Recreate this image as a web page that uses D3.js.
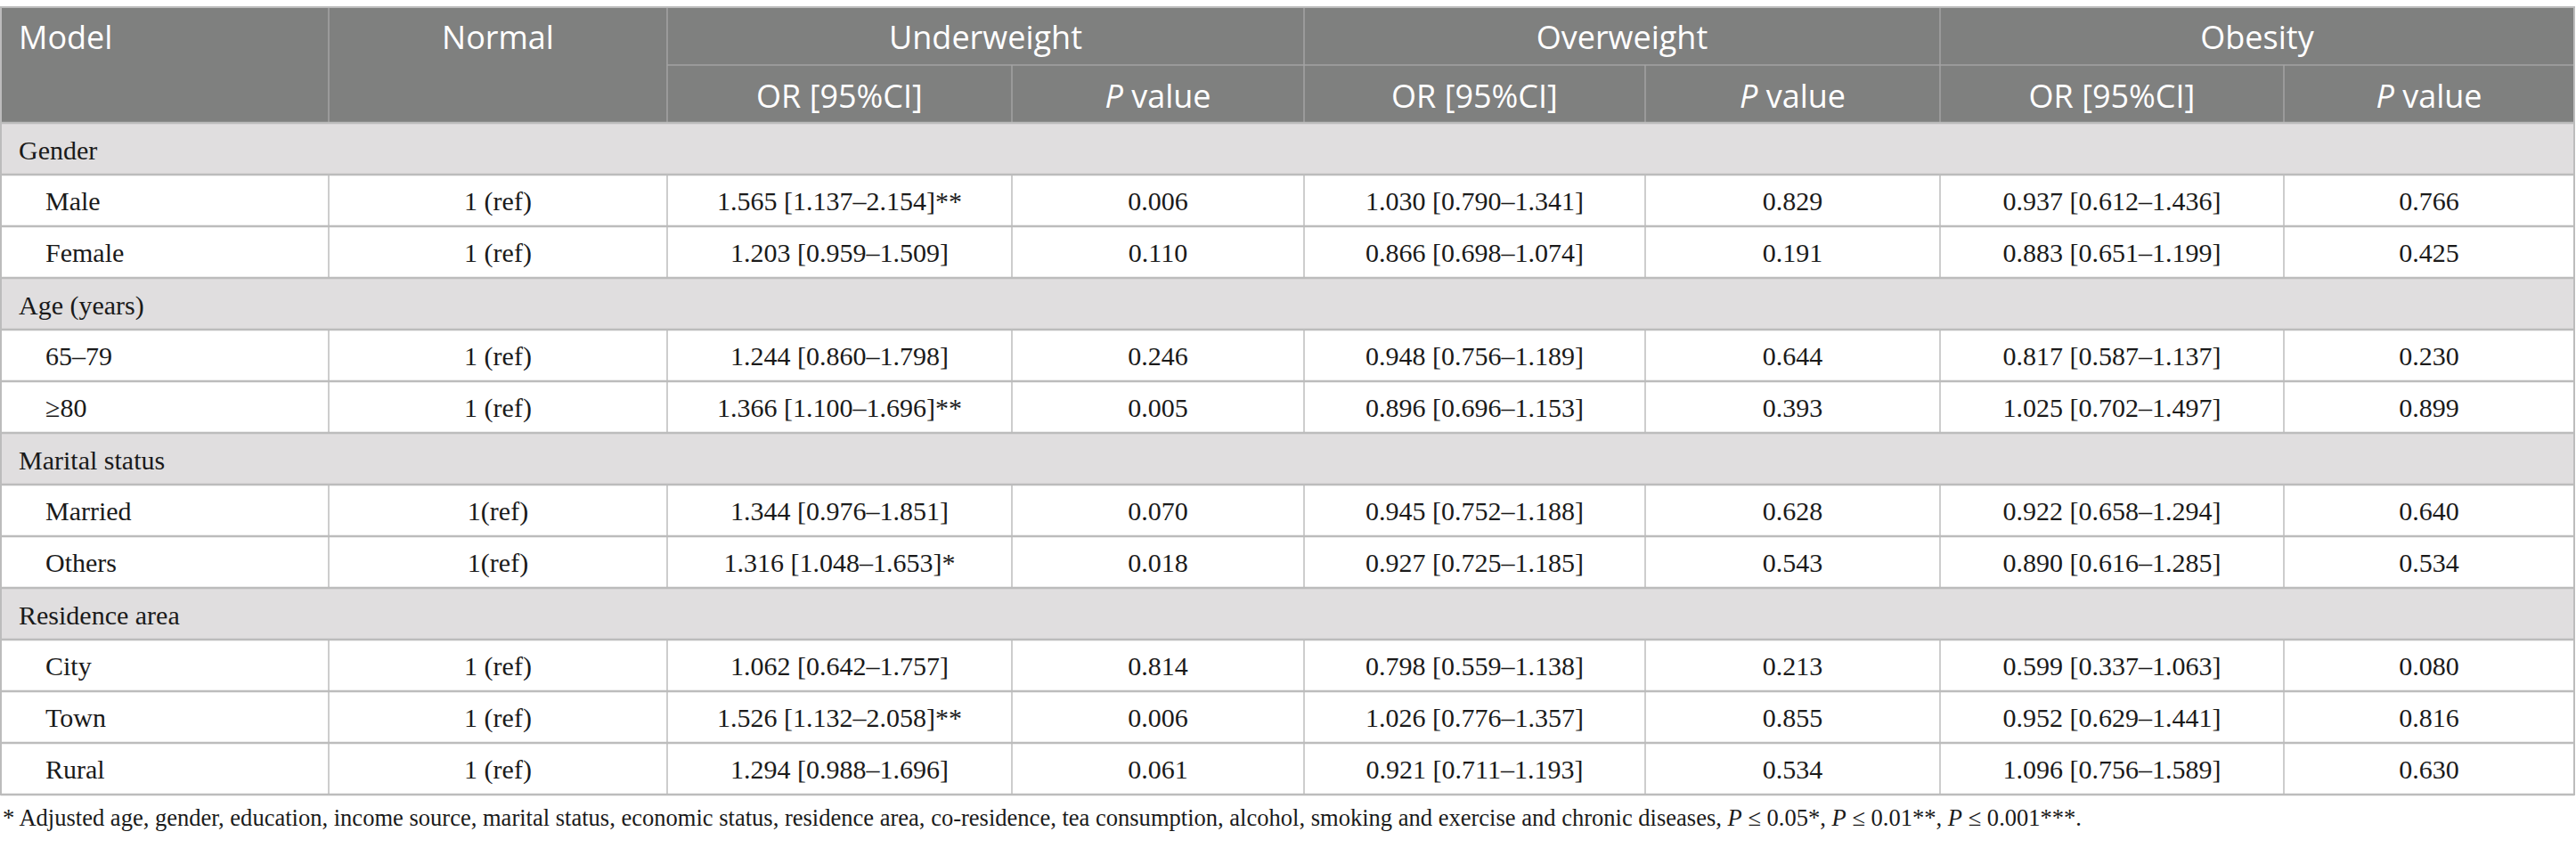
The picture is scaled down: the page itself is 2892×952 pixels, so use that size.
<!DOCTYPE html>
<html>
<head>
<meta charset="utf-8">
<script src="https://cdn.jsdelivr.net/npm/d3@7"></script>
<style>
  body { margin: 0; background: #fff; }
  svg { display: block; }
</style>
</head>
<body>
<div id="chart"></div>
<script>
// ---- data -------------------------------------------------------------
var groups = ["Gender", "Age (years)", "Marital status", "Residence area"];
var subLabels = [
  ["Male", "Female"],
  ["65–79", "≥80"],
  ["Married", "Others"],
  ["City", "Town", "Rural"]
];
var normalRef = ["1 (ref)", "1 (ref)", "1 (ref)", "1 (ref)", "1(ref)", "1(ref)", "1 (ref)", "1 (ref)", "1 (ref)"];

var series = ["Underweight", "Overweight", "Obesity"];

// [OR, lower, upper]
var orUnder = [[1.565, 1.137, 2.154], [1.203, 0.959, 1.509], [1.244, 0.860, 1.798], [1.366, 1.100, 1.696],
               [1.344, 0.976, 1.851], [1.316, 1.048, 1.653], [1.062, 0.642, 1.757], [1.526, 1.132, 2.058], [1.294, 0.988, 1.696]];
var pUnder  = [0.006, 0.110, 0.246, 0.005, 0.070, 0.018, 0.814, 0.006, 0.061];

var orOver  = [[1.030, 0.790, 1.341], [0.866, 0.698, 1.074], [0.948, 0.756, 1.189], [0.896, 0.696, 1.153],
               [0.945, 0.752, 1.188], [0.927, 0.725, 1.185], [0.798, 0.559, 1.138], [1.026, 0.776, 1.357], [0.921, 0.711, 1.193]];
var pOver   = [0.829, 0.191, 0.644, 0.393, 0.628, 0.543, 0.213, 0.855, 0.534];

var orObes  = [[0.937, 0.612, 1.436], [0.883, 0.651, 1.199], [0.817, 0.587, 1.137], [1.025, 0.702, 1.497],
               [0.922, 0.658, 1.294], [0.890, 0.616, 1.285], [0.599, 0.337, 1.063], [0.952, 0.629, 1.441], [1.096, 0.756, 1.589]];
var pObes   = [0.766, 0.425, 0.230, 0.899, 0.640, 0.534, 0.080, 0.816, 0.630];

var footnote = "* Adjusted age, gender, education, income source, marital status, economic status, residence area, co-residence, tea consumption, alcohol, smoking and exercise and chronic diseases, ";

// ---- layout -----------------------------------------------------------
var W = 2892, H = 952;
var colEdges = [1, 369, 749, 1136, 1464, 1847, 2178, 2564, 2890];
var headTop = 8, headMid = 73, headBot = 138, tableBot = 892;

var headBg = "#7f807f", groupBg = "#e0dedf", lineCol = "#bcbcbc", headLine = "#a3a3a3";
var sansFont = "'Open Sans', 'Noto Sans', sans-serif";
var serifFont = "'Liberation Serif', 'DejaVu Serif', serif";
var bodySize = 30;

var f3 = d3.format(".3f");
function stars(p) { return p <= 0.001 ? "***" : p <= 0.01 ? "**" : p <= 0.05 ? "*" : ""; }
function orText(o, p) { return f3(o[0]) + " [" + f3(o[1]) + "–" + f3(o[2]) + "]" + stars(p); }

// build row list
var rows = [];
var k = 0;
groups.forEach(function(g, gi) {
  rows.push({type: "group", label: g});
  subLabels[gi].forEach(function(s) {
    rows.push({
      type: "item", label: s, normal: normalRef[k],
      cells: [orText(orUnder[k], pUnder[k]), f3(pUnder[k]),
              orText(orOver[k], pOver[k]),   f3(pOver[k]),
              orText(orObes[k], pObes[k]),   f3(pObes[k])]
    });
    k++;
  });
});

var y = d3.scaleBand().domain(d3.range(rows.length)).range([headBot, tableBot]).paddingInner(0);
var colMid = d3.range(colEdges.length - 1).map(function(i) { return (colEdges[i] + colEdges[i + 1]) / 2; });

var svg = d3.select("#chart").append("svg").attr("width", W).attr("height", H);

// ---- header -----------------------------------------------------------
svg.append("rect").attr("x", colEdges[0]).attr("y", headTop)
  .attr("width", colEdges[8] - colEdges[0]).attr("height", headBot - headTop).attr("fill", headBg);

var hdr = svg.append("g").attr("font-family", sansFont).attr("font-size", 36).attr("fill", "#fff");
var top1 = 55, top2 = 121;
hdr.append("text").attr("x", 21).attr("y", top1).text("Model");
hdr.append("text").attr("x", colMid[1]).attr("y", top1).attr("text-anchor", "middle").text("Normal");
series.forEach(function(s, i) {
  var c0 = colEdges[2 + i * 2], c1 = colEdges[4 + i * 2];
  hdr.append("text").attr("x", (c0 + c1) / 2).attr("y", top1)
    .attr("text-anchor", "middle").text(s);
  hdr.append("text").attr("x", colMid[2 + i * 2]).attr("y", top2)
    .attr("text-anchor", "middle").text("OR [95%CI]");
  var pt = hdr.append("text").attr("x", colMid[3 + i * 2]).attr("y", top2)
    .attr("text-anchor", "middle");
  pt.append("tspan").attr("font-style", "italic").text("P");
  pt.append("tspan").text(" value");
});

// header grid lines
var hl = svg.append("g").attr("stroke", headLine).attr("stroke-width", 1.5);
hl.append("line").attr("x1", colEdges[2]).attr("x2", colEdges[8]).attr("y1", headMid).attr("y2", headMid);
[1, 2, 4, 6].forEach(function(i) {
  hl.append("line").attr("x1", colEdges[i]).attr("x2", colEdges[i]).attr("y1", headTop).attr("y2", headBot);
});
[3, 5, 7].forEach(function(i) {
  hl.append("line").attr("x1", colEdges[i]).attr("x2", colEdges[i]).attr("y1", headMid).attr("y2", headBot);
});

// ---- body -------------------------------------------------------------
var body = svg.append("g");
var rowG = body.selectAll("g.row").data(rows).enter().append("g")
  .attr("class", "row")
  .attr("transform", function(d, i) { return "translate(0," + y(i) + ")"; });

rowG.filter(function(d) { return d.type === "group"; })
  .append("rect").attr("x", colEdges[0]).attr("width", colEdges[8] - colEdges[0])
  .attr("height", y.bandwidth()).attr("fill", groupBg);

rowG.append("text")
  .attr("x", function(d) { return d.type === "group" ? 21 : 51; })
  .attr("y", function(d) { return d.type === "group" ? 41 : 40; })
  .attr("font-family", serifFont).attr("font-size", bodySize).attr("fill", "#1a1a1a")
  .text(function(d) { return d.label; });

var items = rowG.filter(function(d) { return d.type === "item"; });
items.selectAll("text.cell")
  .data(function(d) { return [d.normal].concat(d.cells); })
  .enter().append("text")
  .attr("class", "cell")
  .attr("x", function(d, i) { return colMid[i + 1]; })
  .attr("y", 40)
  .attr("text-anchor", "middle")
  .attr("font-family", serifFont).attr("font-size", bodySize).attr("fill", "#1a1a1a")
  .text(function(d) { return d; });

// vertical lines for item rows
items.selectAll("line.v").data(colEdges.slice(1, 8)).enter().append("line")
  .attr("class", "v")
  .attr("x1", function(d) { return d; }).attr("x2", function(d) { return d; })
  .attr("y1", 0).attr("y2", y.bandwidth())
  .attr("stroke", lineCol).attr("stroke-width", 1.5);

// horizontal lines
var hLines = d3.range(rows.length + 1).map(function(i) { return i < rows.length ? y(i) : tableBot; });
body.selectAll("line.h").data(hLines).enter().append("line")
  .attr("class", "h")
  .attr("x1", colEdges[0]).attr("x2", colEdges[8])
  .attr("y1", function(d) { return d; }).attr("y2", function(d) { return d; })
  .attr("stroke", lineCol).attr("stroke-width", 2.5);

// outer border
svg.append("rect").attr("x", colEdges[0]).attr("y", headTop)
  .attr("width", colEdges[8] - colEdges[0]).attr("height", tableBot - headTop)
  .attr("fill", "none").attr("stroke", lineCol).attr("stroke-width", 2);

// ---- footnote ---------------------------------------------------------
var fn = svg.append("text").attr("x", 3).attr("y", 927)
  .attr("font-family", serifFont).attr("font-size", 26).attr("fill", "#1a1a1a");
fn.append("tspan").text(footnote);
[["0.05", "*"], ["0.01", "**"], ["0.001", "***"]].forEach(function(p, i) {
  fn.append("tspan").attr("font-style", "italic").text("P");
  fn.append("tspan").text(" ≤ " + p[0] + p[1] + (i < 2 ? ", " : "."));
});
// fit footnote to the width seen in the reference
var len = fn.node().getComputedTextLength();
fn.attr("font-size", 26 * 2335 / len);
</script>
</body>
</html>
